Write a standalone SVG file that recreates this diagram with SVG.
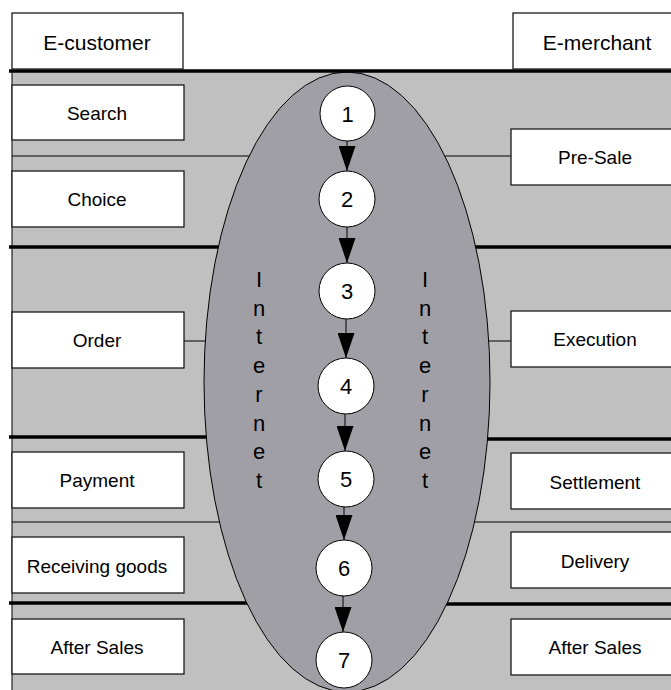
<svg xmlns="http://www.w3.org/2000/svg" width="671" height="690" viewBox="0 0 671 690">
  <style>
    text { font-family: "Liberation Sans", Arial, sans-serif; fill: #000; text-anchor: middle; }
    .box { fill: #fff; stroke: #1a1a1a; stroke-width: 1.3; }
    .hdr { font-size: 21px; }
    .lbl { font-size: 19px; }
    .num { font-size: 22px; }
    .net { font-size: 22px; }
    .thick { stroke: #000; stroke-width: 3.4; }
    .thin { stroke: #000; stroke-width: 1; }
    .step { fill: #fff; stroke: #000; stroke-width: 1; }
    .flow { stroke: #000; stroke-width: 1; fill: none; marker-end: url(#arrow); }
  </style>
  <defs>
    <marker id="arrow" markerUnits="userSpaceOnUse" markerWidth="17" markerHeight="25" refX="8.5" refY="25" orient="0" viewBox="0 0 17 25">
      <path d="M0,0 L17,0 L8.5,25 Z" fill="#000"/>
    </marker>
  </defs>

  <!-- background of the process area -->
  <rect x="12" y="71" width="664" height="625" fill="#c0c0c0" stroke="#000" stroke-width="1"/>

  <!-- phase separators -->
  <g id="bands">
    <line class="thin" x1="12" y1="156" x2="300" y2="156"/>
    <line class="thin" x1="400" y1="156" x2="511" y2="156"/>
    <line class="thin" x1="184" y1="341" x2="300" y2="341"/>
    <line class="thin" x1="400" y1="341" x2="511" y2="341"/>
    <line class="thin" x1="12" y1="522" x2="300" y2="522"/>
    <line class="thin" x1="400" y1="522" x2="671" y2="522"/>
    <line class="thick" x1="9" y1="247" x2="300" y2="247"/>
    <line class="thick" x1="400" y1="247" x2="671" y2="247"/>
    <line class="thick" x1="9" y1="437" x2="300" y2="437"/>
    <line class="thick" x1="400" y1="439" x2="671" y2="439"/>
    <line class="thick" x1="9" y1="603" x2="300" y2="603"/>
    <line class="thick" x1="400" y1="604" x2="671" y2="604"/>
  </g>

  <!-- the Internet channel -->
  <g id="internet">
    <ellipse cx="347" cy="382" rx="143" ry="310" fill="#a19fa6" stroke="#000" stroke-width="1"/>
    <text class="net" x="259" y="287">I<tspan x="259" dy="28.7">n</tspan><tspan x="259" dy="28.7">t</tspan><tspan x="259" dy="28.7">e</tspan><tspan x="259" dy="28.7">r</tspan><tspan x="259" dy="28.7">n</tspan><tspan x="259" dy="28.7">e</tspan><tspan x="259" dy="28.7">t</tspan></text>
    <text class="net" x="425" y="287">I<tspan x="425" dy="28.7">n</tspan><tspan x="425" dy="28.7">t</tspan><tspan x="425" dy="28.7">e</tspan><tspan x="425" dy="28.7">r</tspan><tspan x="425" dy="28.7">n</tspan><tspan x="425" dy="28.7">e</tspan><tspan x="425" dy="28.7">t</tspan></text>
  </g>

  <line class="thick" x1="9" y1="71" x2="671" y2="71"/>

  <!-- headers -->
  <g id="e-customer">
    <rect class="box" x="12" y="13" width="171" height="56"/>
    <text class="hdr" x="97" y="50">E-customer</text>
  </g>
  <g id="e-merchant">
    <rect class="box" x="513" y="13" width="170" height="56"/>
    <text class="hdr" x="597" y="50">E-merchant</text>
  </g>

  <!-- customer activities -->
  <g id="search">
    <rect class="box" x="12" y="85" width="172" height="55"/>
    <text class="lbl" x="97" y="120">Search</text>
  </g>
  <g id="choice">
    <rect class="box" x="12" y="171" width="172" height="56"/>
    <text class="lbl" x="97" y="206">Choice</text>
  </g>
  <g id="order">
    <rect class="box" x="12" y="312" width="172" height="56"/>
    <text class="lbl" x="97" y="347">Order</text>
  </g>
  <g id="payment">
    <rect class="box" x="12" y="452" width="172" height="56"/>
    <text class="lbl" x="97" y="487">Payment</text>
  </g>
  <g id="receiving-goods">
    <rect class="box" x="12" y="537" width="172" height="56"/>
    <text class="lbl" x="97" y="573">Receiving goods</text>
  </g>
  <g id="after-sales-customer">
    <rect class="box" x="12" y="619" width="172" height="55"/>
    <text class="lbl" x="97" y="654">After Sales</text>
  </g>

  <!-- merchant activities -->
  <g id="pre-sale">
    <rect class="box" x="511" y="129" width="170" height="56"/>
    <text class="lbl" x="595" y="164">Pre-Sale</text>
  </g>
  <g id="execution">
    <rect class="box" x="511" y="311" width="170" height="56"/>
    <text class="lbl" x="595" y="346">Execution</text>
  </g>
  <g id="settlement">
    <rect class="box" x="511" y="453" width="170" height="56"/>
    <text class="lbl" x="595" y="489">Settlement</text>
  </g>
  <g id="delivery">
    <rect class="box" x="511" y="532" width="170" height="56"/>
    <text class="lbl" x="595" y="568">Delivery</text>
  </g>
  <g id="after-sales-merchant">
    <rect class="box" x="511" y="619" width="170" height="56"/>
    <text class="lbl" x="595" y="654">After Sales</text>
  </g>

  <!-- step flow -->
  <g id="connectors">
    <line class="flow" x1="347" y1="141" x2="347" y2="171"/>
    <line class="flow" x1="347" y1="227" x2="347" y2="263"/>
    <line class="flow" x1="346" y1="319" x2="346" y2="358"/>
    <line class="flow" x1="345" y1="414" x2="345" y2="451"/>
    <line class="flow" x1="344" y1="507" x2="344" y2="540"/>
    <line class="flow" x1="343" y1="596" x2="343" y2="632"/>
  </g>

  <!-- steps -->
  <g id="step1"><circle class="step" cx="347.5" cy="113.5" r="27.5"/><text class="num" x="347.5" y="122">1</text></g>
  <g id="step2"><circle class="step" cx="347" cy="199" r="28"/><text class="num" x="347" y="207">2</text></g>
  <g id="step3"><circle class="step" cx="347" cy="291" r="28"/><text class="num" x="347" y="299">3</text></g>
  <g id="step4"><circle class="step" cx="346" cy="386" r="28"/><text class="num" x="346" y="394">4</text></g>
  <g id="step5"><circle class="step" cx="346" cy="479" r="28"/><text class="num" x="346" y="487">5</text></g>
  <g id="step6"><circle class="step" cx="344" cy="568" r="28"/><text class="num" x="344" y="576">6</text></g>
  <g id="step7"><circle class="step" cx="344" cy="660" r="28"/><text class="num" x="344" y="668">7</text></g>
</svg>
